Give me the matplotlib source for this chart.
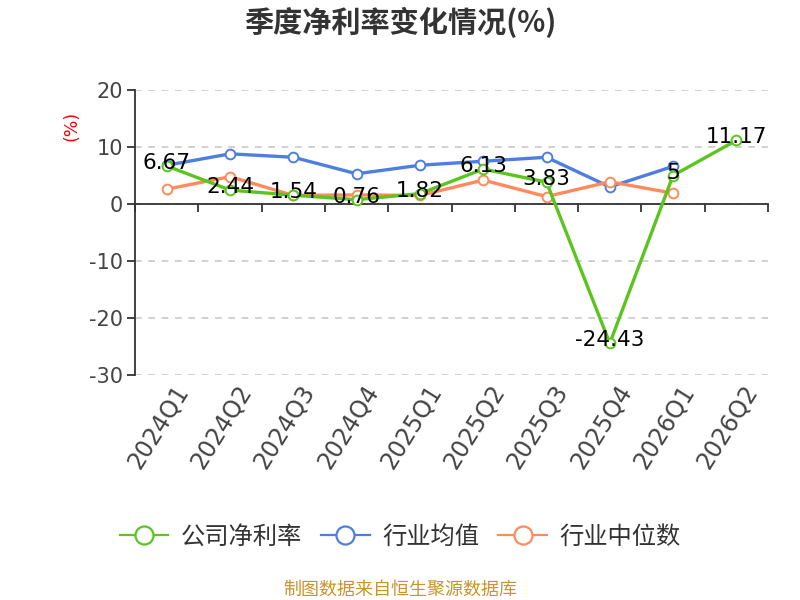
import matplotlib
matplotlib.use('Agg')
import matplotlib.pyplot as plt
from matplotlib.lines import Line2D

plt.rcParams['font.family'] = ['Noto Sans CJK SC', 'DejaVu Sans']

# quarters and series
quarters = ['2024Q1', '2024Q2', '2024Q3', '2024Q4', '2025Q1',
            '2025Q2', '2025Q3', '2025Q4', '2026Q1', '2026Q2']
company = [6.67, 2.44, 1.54, 0.76, 1.82, 6.13, 3.83, -24.43, 5, 11.17]
company_labels = ['6.67', '2.44', '1.54', '0.76', '1.82', '6.13', '3.83', '-24.43', '5', '11.17']
industry_avg = [6.8, 8.8, 8.2, 5.3, 6.8, 7.5, 8.2, 3.0, 6.6]
industry_median = [2.6, 4.8, 1.5, 1.6, 1.5, 4.2, 1.3, 3.9, 1.9]
yticks = [20, 10, 0, -10, -20, -30]

green = '#5cc41f'
blue = '#4e7fe0'
orange = '#ff8b5c'

fig = plt.figure(figsize=(8, 6), dpi=100)
ax = fig.add_axes([0.169, 0.375, 0.791, 0.475])

x = list(range(len(quarters)))

def draw(xs, ys, color, z):
    ax.plot(xs, ys, color=color, lw=2.4, marker='o', ms=7,
            markerfacecolor='white', markeredgecolor=color, markeredgewidth=1.4,
            zorder=z, clip_on=False)

draw(x[:len(industry_avg)], industry_avg, blue, 3)
draw(x[:len(industry_median)], industry_median, orange, 4)
draw(x, company, green, 5)

for xi, v, lab in zip(x, company, company_labels):
    ax.text(xi, v + 0.5, lab, ha='center', va='center', fontsize=15.5,
            color='black', zorder=6, family=['DejaVu Sans'])

ax.set_xlim(-0.5, 9.5)
ax.set_ylim(-30, 20)
ax.set_yticks(yticks)
ax.set_yticklabels([str(t) for t in yticks], fontsize=15, color='#444444',
                   family=['DejaVu Sans'])
ax.yaxis.grid(True, linestyle=(0, (4, 4)), color='#c8c8c8', lw=1.2)
ax.set_axisbelow(True)

for s in ['top', 'right']:
    ax.spines[s].set_visible(False)
ax.spines['left'].set_color('#333333')
ax.spines['left'].set_linewidth(1.3)
ax.spines['bottom'].set_position(('data', 0))
ax.spines['bottom'].set_color('#333333')
ax.spines['bottom'].set_linewidth(1.3)
ax.tick_params(axis='y', length=6, width=1.3, color='#333333', pad=3)
ax.set_xticks([i - 0.5 for i in range(len(quarters) + 1)])
ax.set_xticklabels([])
ax.tick_params(axis='x', length=6, width=1.3, color='#333333', direction='out')

# quarter labels along the bottom of the plot
for xi, q in zip(x, quarters):
    ax.text(xi + 0.1, -0.02, q, transform=ax.get_xaxis_transform(),
            rotation=58, ha='right', va='top', fontsize=17, color='#444444',
            rotation_mode='anchor', family=['DejaVu Sans'])

fig.text(0.09, 0.79, '(%)', rotation=90, color='red', fontsize=12.5,
         ha='center', va='center', family=['DejaVu Sans'])

fig.text(0.5, 0.962, '季度净利率变化情况(%)', ha='center', va='center',
         fontsize=21, fontweight='bold', color='#333333')

handles = [
    Line2D([], [], color=green, lw=1.6, marker='o', ms=13, markerfacecolor='white',
           markeredgewidth=1.6, label='公司净利率'),
    Line2D([], [], color=blue, lw=1.6, marker='o', ms=13, markerfacecolor='white',
           markeredgewidth=1.6, label='行业均值'),
    Line2D([], [], color=orange, lw=1.6, marker='o', ms=13, markerfacecolor='white',
           markeredgewidth=1.6, label='行业中位数'),
]
fig.legend(handles=handles, loc='center', bbox_to_anchor=(0.5, 0.105), ncol=3,
           frameon=False, fontsize=17.5, handlelength=2.0, columnspacing=0.8,
           handletextpad=0.5, labelcolor='#333333')

fig.text(0.5, 0.018, '制图数据来自恒生聚源数据库', ha='center', va='center',
         fontsize=13, color='#c9942a')

fig.savefig('out.png', dpi=100)
